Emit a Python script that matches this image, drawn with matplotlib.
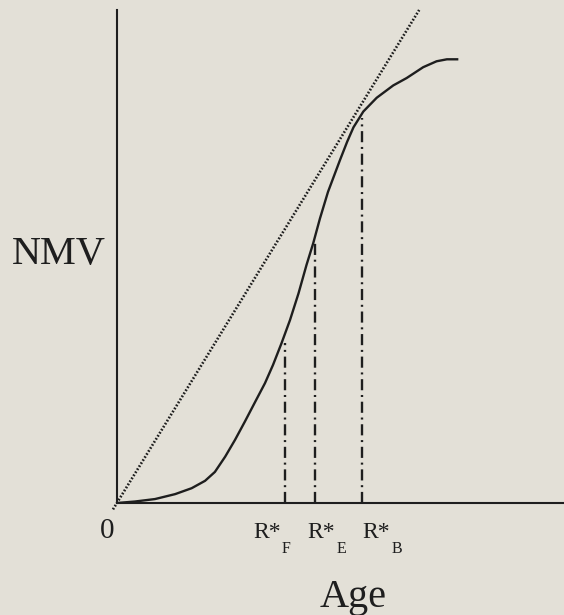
import matplotlib
matplotlib.use("Agg")
import matplotlib.pyplot as plt

# net market value curve against stand age
age = [0, 4.0, 8.5, 13.0, 16.7, 19.7, 21.9, 24.2, 26.4, 28.6, 30.9, 33.1,
       34.9, 36.8, 38.7, 40.6, 42.4, 43.9, 45.4, 47.2, 49.9, 51.5, 52.9,
       55.1, 58.1, 61.8, 64.8, 68.5, 71.5, 73.8, 76.1]
nmv = [0, 0.3, 0.8, 1.8, 3.0, 4.5, 6.3, 9.4, 12.8, 16.5, 20.5, 24.3,
       28.0, 32.4, 37.1, 42.5, 48.3, 52.7, 57.7, 63.1, 69.6, 73.3, 76.2,
       79.4, 82.2, 84.7, 86.2, 88.4, 89.6, 90.0, 90.0]

# dotted ray from the origin
ray_age = [-0.9, 67.6]
ray_nmv = [-1.3, 100]

# rotation ages and the curve height at each
rot_age = [37.6, 44.2, 54.9]
rot_nmv = [32.5, 52.7, 78.0]
rot_sub = ["F", "E", "B"]
rot_label_x = [30.4, 42.6, 55.0]

bg = "#e3e0d7"
ink = "#1e1e1e"
serif = ["Liberation Serif", "DejaVu Serif"]

fig = plt.figure(figsize=(5.64, 6.15), dpi=100, facecolor=bg)
ax = fig.add_axes([117 / 564, 112 / 615, 447 / 564, 493 / 615])
ax.set_facecolor(bg)
ax.set_xlim(0, 100)
ax.set_ylim(0, 100)

for s in ["top", "right"]:
    ax.spines[s].set_visible(False)
for s in ["left", "bottom"]:
    ax.spines[s].set_linewidth(1.5)
    ax.spines[s].set_color(ink)
ax.set_xticks([])
ax.set_yticks([])

ax.plot(age, nmv, color=ink, lw=1.7, solid_joinstyle="round")
ax.plot(ray_age, ray_nmv, color=ink, lw=1.9, linestyle=(0, (0.65, 0.7)),
        clip_on=False)

for x, y in zip(rot_age, rot_nmv):
    ax.plot([x, x], [0, y], color=ink, lw=1.7,
            linestyle=(0, (4.7, 2.0, 0.85, 2.0)))

for x, sub in zip(rot_label_x, rot_sub):
    ax.text(x, -7.0, "R*", fontsize=17, family=serif, ha="left",
            va="baseline", color=ink)
    ax.text(x + 6.5, -10.2, sub, fontsize=11.5, family=serif, ha="left",
            va="baseline", color=ink)

ax.text(-2.2, -7.0, "0", fontsize=21, family=serif, ha="center",
        va="baseline", color=ink)
ax.text(-12.9, 48.5, "NMV", fontsize=29, family=serif, ha="center",
        va="baseline", color=ink)
ax.text(52.9, -21.0, "Age", fontsize=29, family=serif, ha="center",
        va="baseline", color=ink)

fig.savefig("out.png", dpi=100, facecolor=bg)
